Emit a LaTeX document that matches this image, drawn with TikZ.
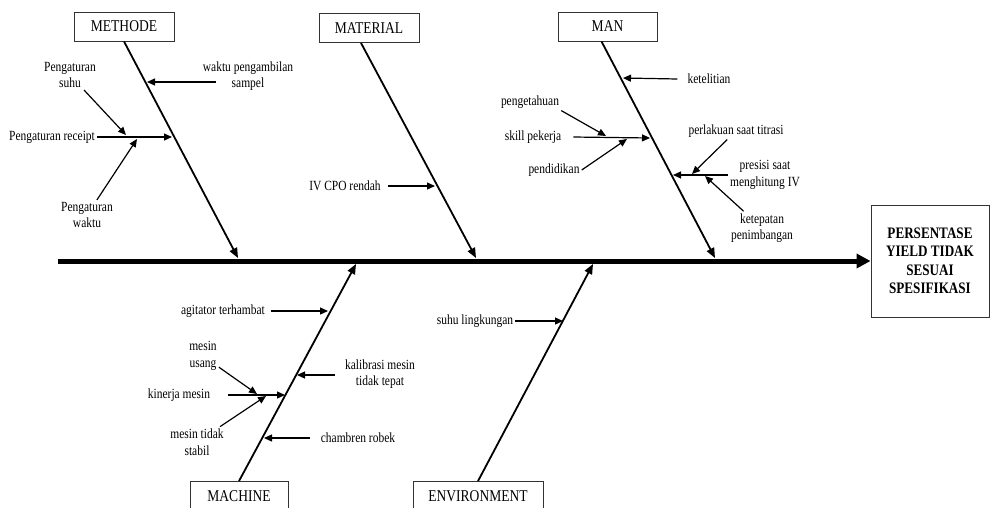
\documentclass[tikz,border=0pt]{standalone}
\usepackage{fontspec}
\setmainfont{Liberation Serif}[FakeStretch=0.82]
\usetikzlibrary{arrows.meta}

\begin{document}
\begin{tikzpicture}[x=1pt,y=-1pt,
	lbl/.style={align=center,inner sep=2pt,font=\fontsize{14}{16.5}\selectfont},
	bone/.style={line width=1.8pt,-{Triangle[length=10pt,width=8pt]}},
	sub/.style={line width=1.2pt,-{Triangle[length=8pt,width=7pt]}}]
	\useasboundingbox (0,0) rectangle (992,507);
	\begin{scope}[every node/.style={draw=black!80,line width=0.9pt,minimum height=29pt,inner sep=1pt,font=\fontsize{16.5}{18}\selectfont}]
	\node[minimum width=100pt] (methode) at (124,26.5) {METHODE};
	\node[minimum width=100pt] (material) at (369,28) {MATERIAL};
	\node[minimum width=99pt] (man) at (607.5,26.5) {MAN};
	\node[minimum width=98pt] (machine) at (239,496) {MACHINE};
	\node[minimum width=130pt] (environment) at (478,496) {ENVIRONMENT};
	\end{scope}
	\node[draw=black!80,line width=0.9pt,minimum width=118pt,minimum height=112pt,align=center,font=\fontsize{16}{18.5}\selectfont\bfseries] (effect) at (930,261) {PERSENTASE\\YIELD TIDAK\\SESUAI\\SPESIFIKASI};
	\coordinate (s0) at (58,261);
	\draw [line width=5pt,-{Triangle[length=14pt,width=14pt]}] (s0) -- (effect);

	\coordinate (m0) at (238,258);
	\coordinate (t0) at (476,258);
	\coordinate (p0) at (715,258);
	\coordinate (k0) at (356,264);
	\coordinate (e0) at (593,264);
	\draw [bone] (methode.south) -- (m0);
	\draw [bone] ([xshift=-8pt]material.south) -- (t0);
	\draw [bone] ([xshift=-6pt]man.south) -- (p0);
	\draw [bone] (machine.north) -- (k0);
	\draw [bone] (environment.north) -- (e0);

	\node[lbl] (waktu) at (248,76) {waktu pengambilan\\sampel};
	\node[lbl] (receipt) at (52,137) {Pengaturan receipt};
	\node[lbl] (suhu) at (70,75) {Pengaturan\\suhu};
	\node[lbl] (waktuatur) at (87,215) {Pengaturan\\waktu};
	\coordinate (m1) at (147,82);
	\coordinate (m2) at (172,137);
	\coordinate (m21) at (126,135);
	\coordinate (m22) at (137,139);
	\draw [sub] ([shift={(15,6)}]waktu.west) -- (m1);
	\draw [sub] (receipt) -- (m2);
	\draw [sub] (suhu) -- (m21);
	\draw [sub] (waktuatur) -- (m22);

	\node[lbl] (ivcpo) at (345,186) {IV CPO rendah};
	\coordinate (t1) at (435,186);
	\draw [sub] ([xshift=5pt]ivcpo.east) -- (t1);

	\node[lbl] (teliti) at (709,79) {ketelitian};
	\node[lbl] (tahu) at (530,102) {pengetahuan};
	\node[lbl] (skill) at (533,137) {skill pekerja};
	\node[lbl] (didik) at (554,170) {pendidikan};
	\node[lbl] (presisi) at (765,175) {presisi saat\\menghitung IV};
	\node[lbl] (titrasi) at (736,131) {perlakuan saat titrasi};
	\node[lbl] (timbang) at (762,228) {ketepatan\\penimbangan};
	\coordinate (p1) at (623,78);
	\coordinate (p2) at (650,138);
	\coordinate (p21) at (606,136);
	\coordinate (p22) at (627,139);
	\coordinate (p3) at (673,175);
	\coordinate (p31) at (692,174);
	\coordinate (p32) at (705,176);
	\draw [sub] ([xshift=-8pt]teliti.west) -- (p1);
	\draw [sub] ([xshift=10pt]skill.east) -- (p2);
	\draw [sub] (tahu.south east) -- (p21);
	\draw [sub] (didik.east) -- (p22);
	\draw [sub] (presisi.west) -- (p3);
	\draw [sub] (titrasi) -- (p31);
	\draw [sub] (timbang) -- (p32);

	\node[lbl] (agitator) at (223,311) {agitator terhambat};
	\node[lbl] (kalibrasi) at (380,374) {kalibrasi mesin\\tidak tepat};
	\node[lbl] (kinerja) at (179,395) {kinerja mesin};
	\node[lbl] (usang) at (203,356) {mesin\\usang};
	\node[lbl] (stabil) at (197,442) {mesin tidak\\stabil};
	\node[lbl] (chambren) at (358,438) {chambren robek};
	\coordinate (k1) at (328,311);
	\coordinate (k2) at (297,375);
	\coordinate (k3) at (285,395);
	\coordinate (k31) at (257,394);
	\coordinate (k32) at (266,396);
	\coordinate (k4) at (264,438);
	\draw [sub] ([xshift=4pt]agitator.east) -- (k1);
	\draw [sub] ([shift={(-8,1)}]kalibrasi.west) -- (k2);
	\draw [sub] ([xshift=16pt]kinerja.east) -- (k3);
	\draw [sub] (usang) -- (k31);
	\draw [sub] (stabil) -- (k32);
	\draw [sub] ([xshift=-9pt]chambren.west) -- (k4);

	\node[lbl] (lingkungan) at (475,321) {suhu lingkungan};
	\coordinate (e1) at (563,321);
	\draw [sub] (lingkungan) -- (e1);
\end{tikzpicture}
\end{document}
